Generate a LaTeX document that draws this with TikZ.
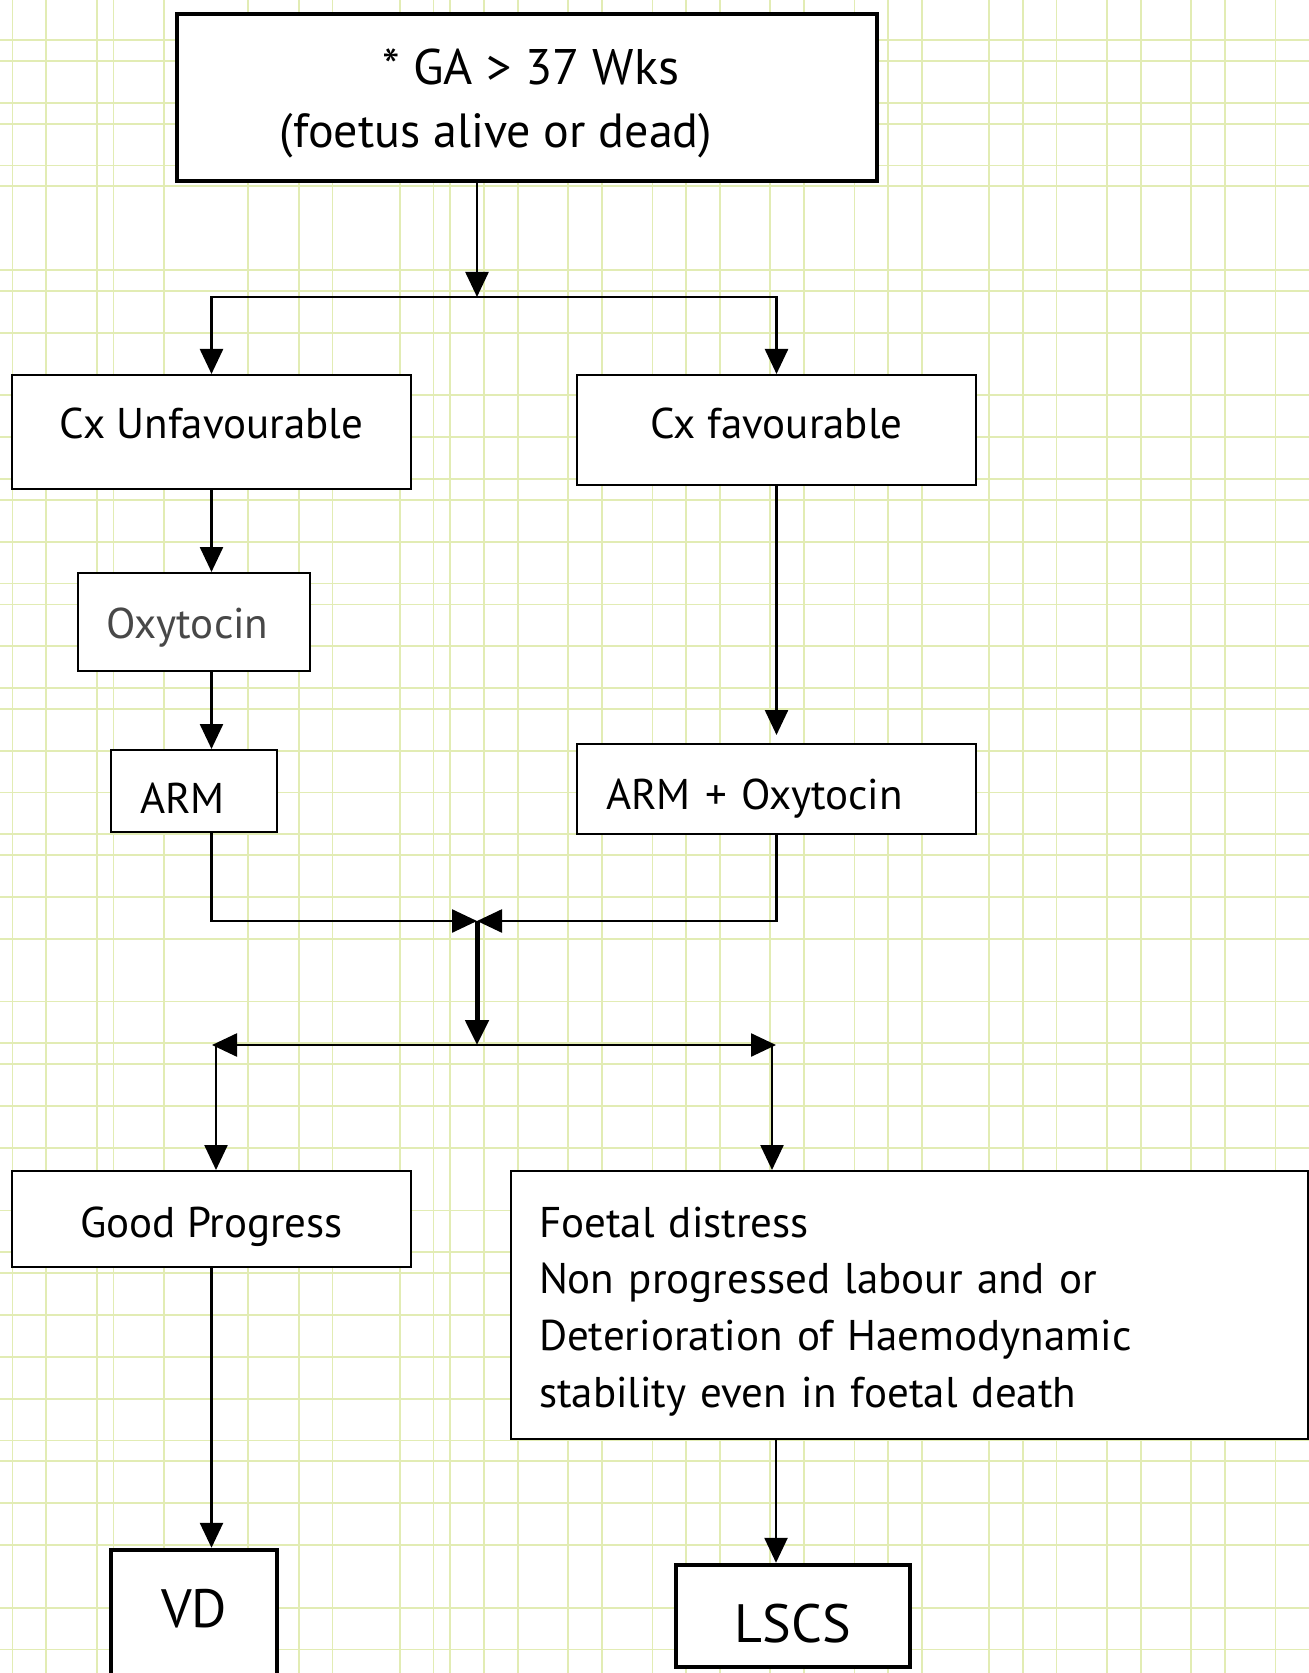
\documentclass[tikz,border=0pt]{standalone}
\usepackage{fontspec}
\setmainfont{PT Sans}
\usetikzlibrary{arrows.meta,calc}
\definecolor{gridcol}{RGB}{226,236,180}
\definecolor{greytext}{RGB}{72,72,72}
% raise (or lower) a label while keeping its measured size
\newcommand{\nudge}[2]{\raisebox{#1}[\height][\depth]{#2}}
\tikzset{
  gridline/.style={draw=gridcol, line width=0.9pt},
  box/.style={draw=black, fill=white, line width=1pt, inner sep=0pt,
    font=\fontsize{21.5}{28.3}\selectfont},
  heavybox/.style={box, line width=2.2pt},
  leftbox/.style={box, align=left, text width=#1},
  link/.style={line width=1.25pt, -{Triangle[length=12.5pt,width=11.5pt]}},
  heavylink/.style={line width=2.5pt, -{Triangle[length=12.5pt,width=11.5pt]}},
  bothlink/.style={line width=1.25pt,
    {Triangle[length=12.5pt,width=11.5pt]}-{Triangle[length=12.5pt,width=11.5pt]}}
}
\begin{document}
\begin{tikzpicture}[x=0.5pt, y=-0.5pt]
  \useasboundingbox (0,0) rectangle (1309,1673);
  \clip (0,0) rectangle (1309,1673);
  \fill[white] (0,0) rectangle (1309,1673);

  % graph-paper background
  \foreach \i in {0,2,5,6,9,14,17,19,23,25,26,28,30,33,35,38,40,42,45,47,50,52,54,58,60,62,65,67,70,72,75}
    \draw[gridline] ({12.5+16.84*\i},0) -- ({12.5+16.84*\i},1673);
  \foreach \j in {-1,0,2,3,5,6,10,11,13,16,18,20,21,23,25,26,28,30,31,33,35,37,38,40,42,45,47,48,50,52,55,57,58,60,62,64,66,67,69,71,74,76}
    \draw[gridline] (0,{61+20.9*\j}) -- (1309,{61+20.9*\j});

  % boxes
  \node[heavybox, minimum width=350pt, minimum height=83.5pt,
        font=\fontsize{24}{31.5}\selectfont] (top) at (527,97.5)
        {\nudge{-2.9pt}{\begin{tabular}{@{}c@{}}\hspace*{3.8pt}{\fontsize{25}{31.5}\selectfont * GA > 37 Wks}\\
         (foetus alive or dead)\hspace*{31pt}\end{tabular}}};
  \node[box, minimum width=199.5pt, minimum height=57pt] (cxu) at (211.5,432) {\nudge{4.3pt}{Cx Unfavourable}};
  \node[box, minimum width=199.5pt, minimum height=55pt] (cxf) at (776.5,430) {\nudge{3.2pt}{Cx favourable}};
  \node[box, minimum width=116pt, minimum height=49pt, text=greytext] (oxy) at (194,622) {\nudge{-2.7pt}{Oxytocin}\hspace*{6.4pt}};
  \node[leftbox=54pt, minimum width=83pt, minimum height=41pt] (arm) at (194,791) {\nudge{-3.7pt}{ARM}};
  \node[leftbox=170.5pt, minimum width=199.5pt, minimum height=45pt] (armox) at (776.5,789) {\nudge{-4.8pt}{ARM + Oxytocin}};
  \node[box, minimum width=199.5pt, minimum height=48pt] (gp) at (211.5,1219) {\nudge{-3.7pt}{Good Progress}};
  \node[leftbox=370.5pt, minimum width=398.5pt, minimum height=134pt] (fd) at (909.5,1305)
        {\nudge{-2.9pt}{\begin{tabular}{@{}l@{}}Foetal distress\\Non progressed labour and or\\
         Deterioration of Haemodynamic\\stability even in foetal death\end{tabular}}};
  \node[heavybox, minimum width=83pt, minimum height=72pt, font=\fontsize{27}{32}\selectfont] (vd) at (194,1622) {\nudge{6.9pt}{VD}};
  \node[heavybox, minimum width=117pt, minimum height=51pt, font=\fontsize{27}{32}\selectfont] (lscs) at (793,1616) {\nudge{-3.7pt}{LSCS}};

  % junction points
  \coordinate (split) at (477,297);
  \coordinate (merge) at (477,921);
  \coordinate (fork) at (477,1045);
  \coordinate (forkL) at (216,1045);
  \coordinate (forkR) at (772,1045);
  \coordinate (fdout) at ([xshift=133pt]fd.south west);

  % connectors
  \draw[link] (top.south -| split) -- (split);
  \draw[link] (split) -| (cxu.north);
  \draw[link] (split) -| (cxf.north);
  \draw[link] (cxu.south) -- (cxu.south |- oxy.north);
  \draw[link] (oxy.south -| cxu.south) -- (arm.north -| cxu.south);
  \draw[link] (cxf.south) -- ([yshift=4pt]armox.north);
  \draw[link] (arm.south -| cxu.south) |- (merge);
  \draw[link] (armox.south) |- (merge);
  \draw[heavylink] (merge) -- (fork);
  \draw[bothlink] ([xshift=-2pt]forkL) -- ([xshift=2pt]forkR);
  \draw[link] (forkL) -- (forkL |- gp.north);
  \draw[link] (forkR) -- (forkR |- fd.north);
  \draw[link] (gp.south) -- (gp.south |- vd.north);
  \draw[link] (fdout) -- (fdout |- lscs.north);
\end{tikzpicture}
\end{document}
